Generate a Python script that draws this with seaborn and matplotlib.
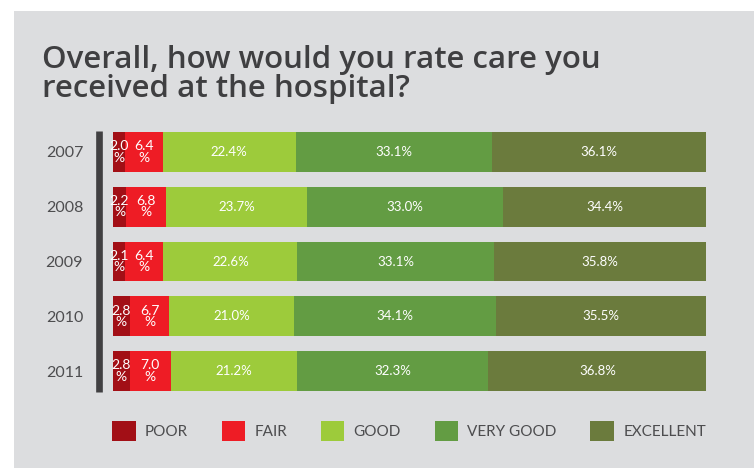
import matplotlib
matplotlib.use("Agg")
import matplotlib.pyplot as plt
from matplotlib.patches import Rectangle, Patch
from matplotlib.lines import Line2D
import seaborn as sns
import pandas as pd
import numpy as np

years = ["2007", "2008", "2009", "2010", "2011"]
categories = ["POOR", "FAIR", "GOOD", "VERY GOOD", "EXCELLENT"]
poor = [2.0, 2.2, 2.1, 2.8, 2.8]
fair = [6.4, 6.8, 6.4, 6.7, 7.0]
good = [22.4, 23.7, 22.6, 21.0, 21.2]
very_good = [33.1, 33.0, 33.1, 34.1, 32.3]
excellent = [36.1, 34.4, 35.8, 35.5, 36.8]
colors = ["#A20F16", "#EE1C25", "#9DCB3B", "#639C43", "#6B7B3D"]

title = "Overall, how would you rate care you\nreceived at the hospital?"

sns.set_theme(style="white")
plt.rcParams["font.family"] = ["Lato", "DejaVu Sans"]
txt_color = "#4D4D4F"
bg = "#DCDDDF"

series = [poor, fair, good, very_good, excellent]
df = pd.DataFrame({c: v for c, v in zip(categories, series)})
df["year"] = years
cum = df[categories].cumsum(axis=1)
starts = cum - df[categories]

fig = plt.figure(figsize=(7.54, 4.68), dpi=100)
fig.patch.set_facecolor("white")
fig.add_artist(Rectangle((14 / 754, 0), 1, 1 - 11 / 468, transform=fig.transFigure,
                         facecolor=bg, edgecolor="none", zorder=-10))

ax = fig.add_axes([113 / 754, 1 - 398.4 / 468, 593 / 754, 273.8 / 468])
ax.set_facecolor("none")

# stacked: draw cumulative totals from largest to smallest
for cat, col in reversed(list(zip(categories, colors))):
    sns.barplot(x=cum[cat], y=df["year"], orient="h", color=col, width=0.73,
                ax=ax, saturation=1, edgecolor="none", linewidth=0)

for i in range(len(years)):
    for cat in categories:
        v = df.loc[i, cat]
        xc = starts.loc[i, cat] + v / 2
        if cat in ("POOR", "FAIR"):
            ax.text(xc, i, f"{v:.1f}\n%", ha="center", va="center", color="white",
                    fontsize=10, linespacing=0.95)
        else:
            ax.text(xc, i, f"{v:.1f}%", ha="center", va="center", color="white",
                    fontsize=9.5)

ax.set_xlim(0, 100)
ax.set_ylim(4.5, -0.5)
ax.set_xlabel("")
ax.set_ylabel("")
ax.set_xticks([])
for s in ax.spines.values():
    s.set_visible(False)
ax.tick_params(axis="y", length=0, pad=21.5, labelsize=11.5, labelcolor=txt_color)

# vertical dark rule
fig.add_artist(Line2D([99 / 754, 99 / 754], [1 - 131 / 468, 1 - 392 / 468],
                      transform=fig.transFigure, color="#414042", linewidth=4.8,
                      solid_capstyle="butt"))

fig.text(42 / 754, 1 - 45 / 468, title, ha="left", va="top", fontsize=22.5,
         color="#3F3F41", linespacing=0.97, fontweight="semibold",
         family=["Open Sans", "DejaVu Sans"])

handles = [Patch(facecolor=c, edgecolor="none", label=l) for c, l in zip(colors, categories)]
leg = fig.legend(handles=handles, loc="center left", bbox_to_anchor=(112 / 754, 1 - 431 / 468),
                 ncol=5, frameon=False, fontsize=11, handlelength=1.55, handleheight=1.55,
                 handletextpad=0.6, columnspacing=2.2, labelcolor=txt_color, borderaxespad=0,
                 borderpad=0)

fig.savefig("out.png", dpi=100)
